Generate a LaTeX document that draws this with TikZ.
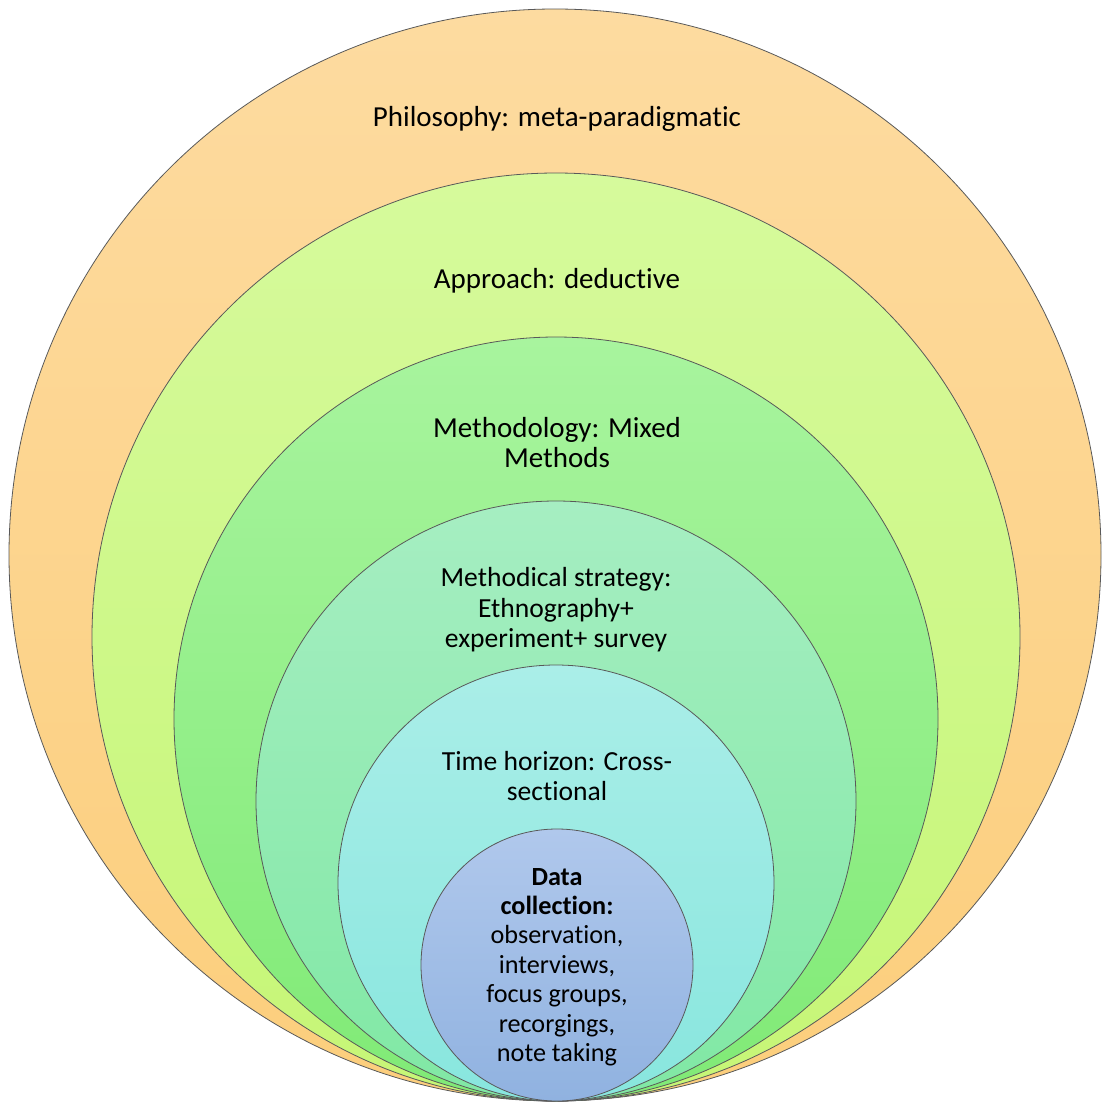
\documentclass[tikz,border=0pt]{standalone}
\usepackage{fontspec}
\setmainfont{Carlito}[Ligatures=NoCommon]
\begin{document}
\begin{tikzpicture}[x=1pt,y=-1pt,
  ring/.style={draw=black!65, line width=0.8pt},
  label/.style={align=center, font=\fontsize{29}{30}\selectfont, inner sep=0pt},
  smalllabel/.style={label, font=\fontsize{27.6}{30.5}\selectfont},
  datalabel/.style={label, font=\fontsize{26.2}{29.4}\selectfont}]
\useasboundingbox (0,0) rectangle (1102,1103);
% nested circles, all touching at the bottom
\shade[ring, top color={rgb,255:red,253;green,219;blue,160}, bottom color={rgb,255:red,252;green,206;blue,124}]
  (555,555) circle[radius=546];
\shade[ring, top color={rgb,255:red,214;green,250;blue,156}, bottom color={rgb,255:red,198;green,246;blue,118}]
  (556,637) circle[radius=464];
\shade[ring, top color={rgb,255:red,168;green,244;blue,158}, bottom color={rgb,255:red,128;green,234;blue,118}]
  (556,719) circle[radius=382];
\shade[ring, top color={rgb,255:red,166;green,238;blue,194}, bottom color={rgb,255:red,128;green,232;blue,164}]
  (556,801) circle[radius=300];
\shade[ring, top color={rgb,255:red,170;green,238;blue,232}, bottom color={rgb,255:red,136;green,230;blue,222}]
  (556,883) circle[radius=218];
\shade[ring, top color={rgb,255:red,176;green,200;blue,236}, bottom color={rgb,255:red,144;green,178;blue,224}]
  (557,965) circle[radius=136];
% labels
\node[label] (phil) at (557,119) {Philosophy: meta-paradigmatic};
\node[label] (appr) at (557,281) {Approach: deductive};
\node[label] (meth) at (557,443) {Methodology: Mixed\\Methods};
\node[smalllabel] (strat) at (556,610) {Methodical strategy:\\Ethnography+\\experiment+ survey};
\node[smalllabel] (time) at (557,776) {Time horizon: Cross-\\sectional};
\node[datalabel] (data) at (557,967) {\textbf{Data}\\\textbf{collection:}\\observation,\\interviews,\\focus groups,\\recorgings,\\note taking};
\end{tikzpicture}
\end{document}
